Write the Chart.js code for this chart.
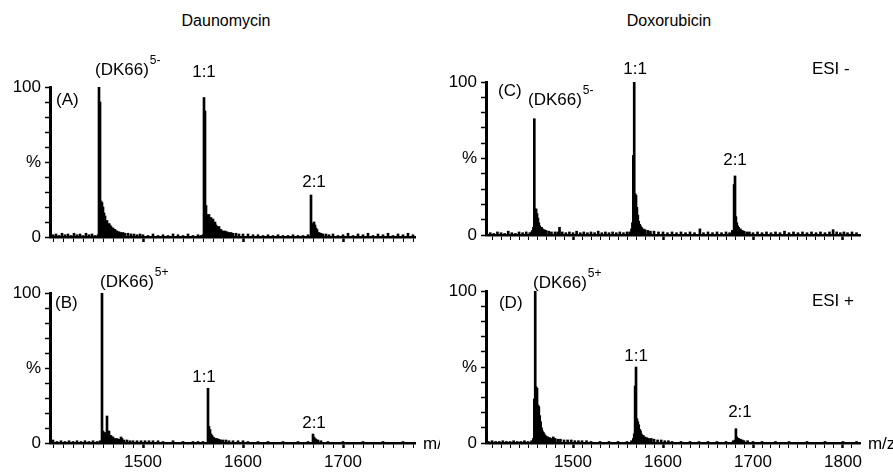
<!DOCTYPE html>
<html>
<head>
<meta charset="utf-8">
<script src="https://cdn.jsdelivr.net/npm/chart.js@4.4.1/dist/chart.umd.min.js"></script>
<style>
  html, body { margin:0; padding:0; background:#fff; }
  body { width:893px; height:472px; position:relative; overflow:hidden; font-family:"Liberation Sans", Arial, Helvetica, sans-serif; }
  canvas { position:absolute; }
  .ttl { position:absolute; top:12px; font-size:16px; color:#000; transform:translateX(-50%); white-space:nowrap; }
</style>
</head>
<body>
<div class="ttl" style="left:226px">Daunomycin</div>
<div class="ttl" style="left:669px">Doxorubicin</div>
<canvas id="cA" width="440" height="205" style="left:0;top:50px"></canvas>
<canvas id="cB" width="440" height="217" style="left:0;top:255px"></canvas>
<canvas id="cC" width="448" height="205" style="left:445px;top:50px"></canvas>
<canvas id="cD" width="448" height="217" style="left:445px;top:255px"></canvas>
<script>
// ---------- data (m/z, relative intensity %) ----------
const A_MZ = [1410,1413,1416,1419,1422,1425,1428,1431,1434,1437,1440,1443,1446,1449,1452,1455,
  1456,1457,1458,1459,1460,1461,1462,1463,1464,1465,1466,1467,1468,1469,1470,1471,1472,1473,1474,1476,1478,1480,1482,1485,1488,1491,1494,1497,1500,1505,1510,1515,1520,1525,1530,1535,1540,1545,1550,1555,1558,1560,
  1561,1562,1563,1564,1565,1566,1567,1568,1569,1570,1571,1572,1573,1574,1575,1576,1577,1578,1580,1582,1584,1586,1588,1590,1593,1596,1600,1605,1610,1615,1620,1625,1630,1635,1640,1645,1650,1655,1660,1665,
  1668,1669,1670,1671,1672,1673,1674,1676,1678,1680,1683,1686,1690,1695,1700,1705,1710,1715,1720,1725,1730,1735,1740,1745,1750,1755,1760,1765,1770];
const A_INT = [1.5,2,1,2.5,1.5,2,1,2.5,1.5,2,1,2.5,1.5,2,1,1.5,
  100,90,24,23,20,16,14,8,11,6,9,8,7,6,6,5,5,4,4,3.5,3,3,2.5,2.5,2,2,1.5,2,1.5,1,2,1,1.5,1,2,1.5,1,2,1,1.5,1,1.5,
  93,84,21,15,12,15,11,13,10,12,9,10,8,7,6,7,5,5,4,4,3.5,3,3,2.5,2.5,2,2,2,1.5,1.5,1,1.5,1,1.5,1,1,1.5,1,1,1.5,
  28,6,9,10,8,6,5,3,2.5,2,2,1.5,2,1,1.5,2.5,1,2,1.5,2.5,1,2,1.5,2.5,1,2,1.5,2.5,1.5];

const B_MZ = [1410,1414,1418,1422,1426,1430,1434,1438,1442,1446,1450,1454,1457,
  1459,1460,1461,1462,1463,1464,1465,1466,1467,1468,1469,1470,1472,1474,1476,1478,1479,1481,1484,1487,1490,1494,1498,1502,1506,1510,1515,1520,1530,1540,1550,1555,1560,
  1565,1566,1567,1568,1569,1570,1571,1572,1574,1576,1578,1580,1583,1586,1590,1595,1600,1605,1615,1625,1640,1655,1665,
  1670,1671,1672,1673,1675,1678,1685,1700,1720,1740,1760];
const B_INT = [2,1,1.5,1,1.5,1,1.5,1,1.5,1,1.5,1,1.5,
  100,8,6,7,5,18,6,8,5,5,4,4,3,3,2.5,4,3,2,2,1.5,1.5,1.5,1.5,1.5,1.5,1.5,1.5,1,1.5,1,1,1,1,
  36.5,11,9,6,5,4,3.5,3,3,2.5,2,2,2,1.5,1.5,1.5,1.5,1,1,1,1,1,1,
  6,4,3,2.5,2,1.5,1,1,1,1,1];

const C_MZ = [1408,1412,1416,1420,1424,1428,1432,1436,1440,1444,1448,1452,1454,1455,1456,
  1457,1458,1459,1460,1461,1462,1463,1464,1465,1466,1468,1470,1473,1476,1480,1483,1485,1488,1492,1496,1500,1504,1508,1512,1516,1520,1524,1528,1532,1536,1540,1544,1548,1552,1556,1560,1563,1565,1566,
  1567,1568,1569,1570,1571,1572,1573,1574,1575,1576,1578,1580,1583,1586,1590,1595,1600,1605,1610,1615,1620,1625,1630,1635,1641,1645,1650,1655,1660,1665,1670,1674,1677,
  1679,1680,1681,1682,1683,1684,1686,1688,1690,1693,1696,1700,1705,1710,1715,1720,1725,1730,1735,1740,1745,1750,1755,1760,1765,1770,1775,1780,1785,1789,1793,1797,1801,1805,1810,1815];
const C_INT = [1.5,1,2,1.5,1,2.5,1.5,1,2,1.5,2,1.5,2,3,5,
  76,17,17,14,11,8,6,5,5,4,3.5,3,2.5,2,2,2,5,2,1.5,2,1.5,2.5,1.5,2,1.5,2,1.5,2.5,1.5,2,1.5,2,1.5,2,1.5,2,2,4,8,
  52,100,27,26,18,13,9,7,6,5,4,3.5,3,2.5,2.5,2,2,1.5,2,1.5,2,1.5,2,1.5,4,1.5,2,1.5,2,1.5,2,1.5,3,
  33,38.6,12,8,6,5,4,3,2.5,2,2,1.5,2,1.5,2,1.5,2,1.5,2.5,1.5,2,1.5,2,1.5,2,1.5,2,1.5,2,3.5,2,1.5,2,1.5,2,1.5];

const D_MZ = [1406,1410,1414,1418,1422,1426,1430,1434,1438,1442,1446,1450,1454,1456,
  1457,1458,1459,1460,1461,1462,1463,1464,1465,1466,1467,1468,1469,1470,1472,1474,1476,1478,1480,1483,1486,1490,1494,1498,1502,1506,1510,1515,1520,1530,1540,1550,1560,1565,1567,1568,
  1569,1570,1571,1572,1573,1574,1575,1576,1577,1578,1580,1582,1584,1587,1590,1594,1598,1602,1606,1610,1620,1630,1640,1650,1660,1670,1678,1680,
  1681,1682,1683,1684,1686,1688,1690,1694,1700,1710,1725,1740,1760,1780,1800,1815];
const D_INT = [1,1.5,1,1,1.5,1,1,1.5,1,1,1.5,1,1.5,3,
  29,100,37,36,25,24,18,14,10,8,7,6,5,4.5,4,3.5,3,4,3,2.5,2.5,2,2,2,1.5,1.5,1.5,1.5,1,1,1,1,1,1.5,3,6,
  37.5,50,16,14,12,9,8,6,5,5,4,3.5,3,3,2.5,2,2,1.5,1.5,1,1,1,1,1,1,1,1.5,2,
  9.4,4,3,3,2.5,2,1.5,1.5,1,1,1,1,1,1,1,1];

// axis ranges (m/z) and tick labels
const LEFT_RANGE = [1407, 1772];
const RIGHT_RANGE = [1403.3, 1818.9];
const X_LABEL_TICKS = [1500, 1600, 1700, 1800];
const Y_LABELS = {0:'0', 50:'%', 100:'100'};

const FAM = '"Liberation Sans", Arial, Helvetica, sans-serif';

function makeAnnot(items) {
  return {
    id: 'annot',
    afterDraw(chart) {
      const ctx = chart.ctx, xs = chart.scales.x, ys = chart.scales.y;
      ctx.save();
      ctx.fillStyle = '#000';
      ctx.textBaseline = 'middle';
      for (const it of items) {
        const px = xs.getPixelForValue(it.x), py = ys.getPixelForValue(it.y);
        ctx.font = '17px ' + FAM;
        ctx.textAlign = it.align || 'left';
        ctx.fillText(it.t, px, py);
        if (it.sup) {
          const w = ctx.measureText(it.t).width;
          const sx = it.align === 'center' ? px + w / 2 : px + w;
          ctx.font = '12px ' + FAM;
          ctx.textAlign = 'left';
          ctx.fillText(it.sup, sx + 1, py - 10);
        }
      }
      ctx.restore();
    }
  };
}

function makeChart(id, mz, inten, cfg) {
  new Chart(document.getElementById(id), {
    type: 'bar',
    data: { datasets: [{ data: mz.map((x, i) => ({ x: x, y: inten[i] })), backgroundColor: '#000', borderWidth: 0, barThickness: 2 }] },
    options: {
      responsive: false, animation: false, devicePixelRatio: 1,
      layout: { padding: { top: cfg.padTop, right: cfg.padRight, left: 0, bottom: 0 } },
      plugins: { legend: { display: false }, tooltip: { enabled: false } },
      scales: {
        x: {
          type: 'linear', min: cfg.range[0], max: cfg.range[1], offset: false,
          grid: { display: true, drawOnChartArea: false, drawTicks: true, tickLength: 5, tickColor: '#000', offset: false,
                  tickWidth: c => (c.tick && X_LABEL_TICKS.includes(c.tick.value)) ? 2.5 : 1 },
          border: { display: true, color: '#000', width: 2.5 },
          ticks: { stepSize: 10, autoSkip: false, includeBounds: false, maxRotation: 0, display: cfg.xLabels,
                   color: '#000', font: { family: FAM, size: 17 }, padding: 4,
                   callback: v => X_LABEL_TICKS.includes(v) ? String(v) : '' },
          afterFit: s => { s.height = cfg.xH; }
        },
        y: {
          min: 0, max: 100,
          grid: { display: true, drawOnChartArea: false, tickLength: 5, tickColor: '#000', tickWidth: 1.5 },
          border: { display: true, color: '#000', width: 3 },
          ticks: { stepSize: 10, autoSkip: false, color: '#000', font: { family: FAM, size: 17 }, padding: 4,
                   callback: v => (Y_LABELS[v] !== undefined ? Y_LABELS[v] : '') },
          afterFit: s => { s.width = cfg.yW; }
        }
      }
    },
    plugins: [makeAnnot(cfg.items)]
  });
}

makeChart('cA', A_MZ, A_INT, { range: LEFT_RANGE, padTop: 37, padRight: 25, xH: 18, yW: 50, xLabels: false,
  items: [
    { t: '(A)', x: 1413, y: 91 },
    { t: '(DK66)', sup: '5-', x: 1452, y: 111 },
    { t: '1:1', x: 1561, y: 110, align: 'center' },
    { t: '2:1', x: 1671, y: 36.7, align: 'center' }
  ] });

makeChart('cB', B_MZ, B_INT, { range: LEFT_RANGE, padTop: 38, padRight: 25, xH: 29, yW: 50, xLabels: true,
  items: [
    { t: '(B)', x: 1412, y: 93 },
    { t: '(DK66)', sup: '5+', x: 1457, y: 107 },
    { t: '1:1', x: 1561, y: 44, align: 'center' },
    { t: '2:1', x: 1671, y: 13, align: 'center' },
    { t: 'm/z', x: 1780, y: -1 }
  ] });

makeChart('cC', C_MZ, C_INT, { range: RIGHT_RANGE, padTop: 32, padRight: 33, xH: 20, yW: 41, xLabels: false,
  items: [
    { t: '(C)', x: 1416.6, y: 94 },
    { t: '(DK66)', sup: '5-', x: 1450, y: 88 },
    { t: '1:1', x: 1568.9, y: 108, align: 'center' },
    { t: '2:1', x: 1680, y: 49, align: 'center' },
    { t: 'ESI -', x: 1765.5, y: 108 }
  ] });

makeChart('cD', D_MZ, D_INT, { range: RIGHT_RANGE, padTop: 36, padRight: 33, xH: 29, yW: 41, xLabels: true,
  items: [
    { t: '(D)', x: 1417.7, y: 92 },
    { t: '(DK66)', sup: '5+', x: 1455.5, y: 105 },
    { t: 'ESI +', x: 1765.5, y: 93 },
    { t: '1:1', x: 1570, y: 57, align: 'center' },
    { t: '2:1', x: 1685.5, y: 20, align: 'center' },
    { t: 'm/z', x: 1827.7, y: -1 }
  ] });
</script>
</body>
</html>
